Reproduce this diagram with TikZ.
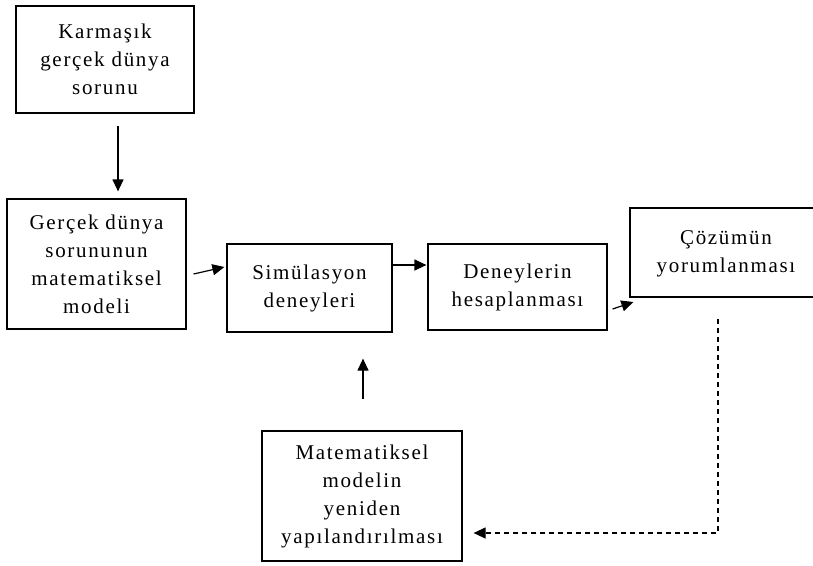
\documentclass[tikz,border=0pt]{standalone}
\usepackage{fontspec}
\setmainfont[LetterSpace=8]{Liberation Serif}
\usetikzlibrary{arrows.meta,calc}
\tikzset{
  box/.style={draw, line width=1.2pt, inner sep=0pt, align=center,
    font=\fontsize{21pt}{28pt}\selectfont},
  arr/.style={line width=1.2pt, -{Triangle[length=12pt,width=11pt]}},
  dasharr/.style={arr, dash pattern=on 5pt off 4pt}
}
\begin{document}
\begin{tikzpicture}[x=1pt,y=-1pt]
\useasboundingbox (0,0) rectangle (813,565);
\node[box, minimum width=178pt, minimum height=107pt] (b1) at (105,59.5) {Karmaşık\\gerçek dünya\\sorunu};
\node[box, minimum width=179pt, minimum height=130pt] (b2) at (96.5,264) {Gerçek dünya\\sorununun\\matematiksel\\modeli};
\node[box, minimum width=165pt, minimum height=88pt] (b3) at (309.5,288) {Simülasyon\\deneyleri};
\node[box, minimum width=179pt, minimum height=86pt] (b4) at (517.5,287) {Deneylerin\\hesaplanması};
\node[box, minimum width=192pt, minimum height=89pt] (b5) at (726,252.5) {\raisebox{10pt}{\begin{tabular}{@{}c@{}}Çözümün\\yorumlanması\end{tabular}}};
\node[box, minimum width=200pt, minimum height=130pt] (b6) at (362,496) {Matematiksel\\modelin\\yeniden\\yapılandırılması};
\draw[arr] ($(b1.south)+(13,12)$) -- ($(b2.north)+(21.5,-7)$);
\draw[arr] ($(b2.east)+(7,10)$) -- ($(b3.west)+(-2,-21)$);
\draw[arr] ($(b3.east)+(0,-23)$) -- ($(b4.west)+(-1,-22)$);
\draw[arr] ($(b4.east)+(5,22)$) -- ($(b5.west)+(4,49.5)$);
\draw[arr] ($(b6.north)+(1,-31)$) -- ($(b3.south)+(53.5,26)$);
\coordinate (c1) at (718,533);
\draw[dasharr] ($(b5.south)+(-8,21)$) -- (c1) -- ($(b6.east)+(11,37)$);
\end{tikzpicture}
\end{document}
